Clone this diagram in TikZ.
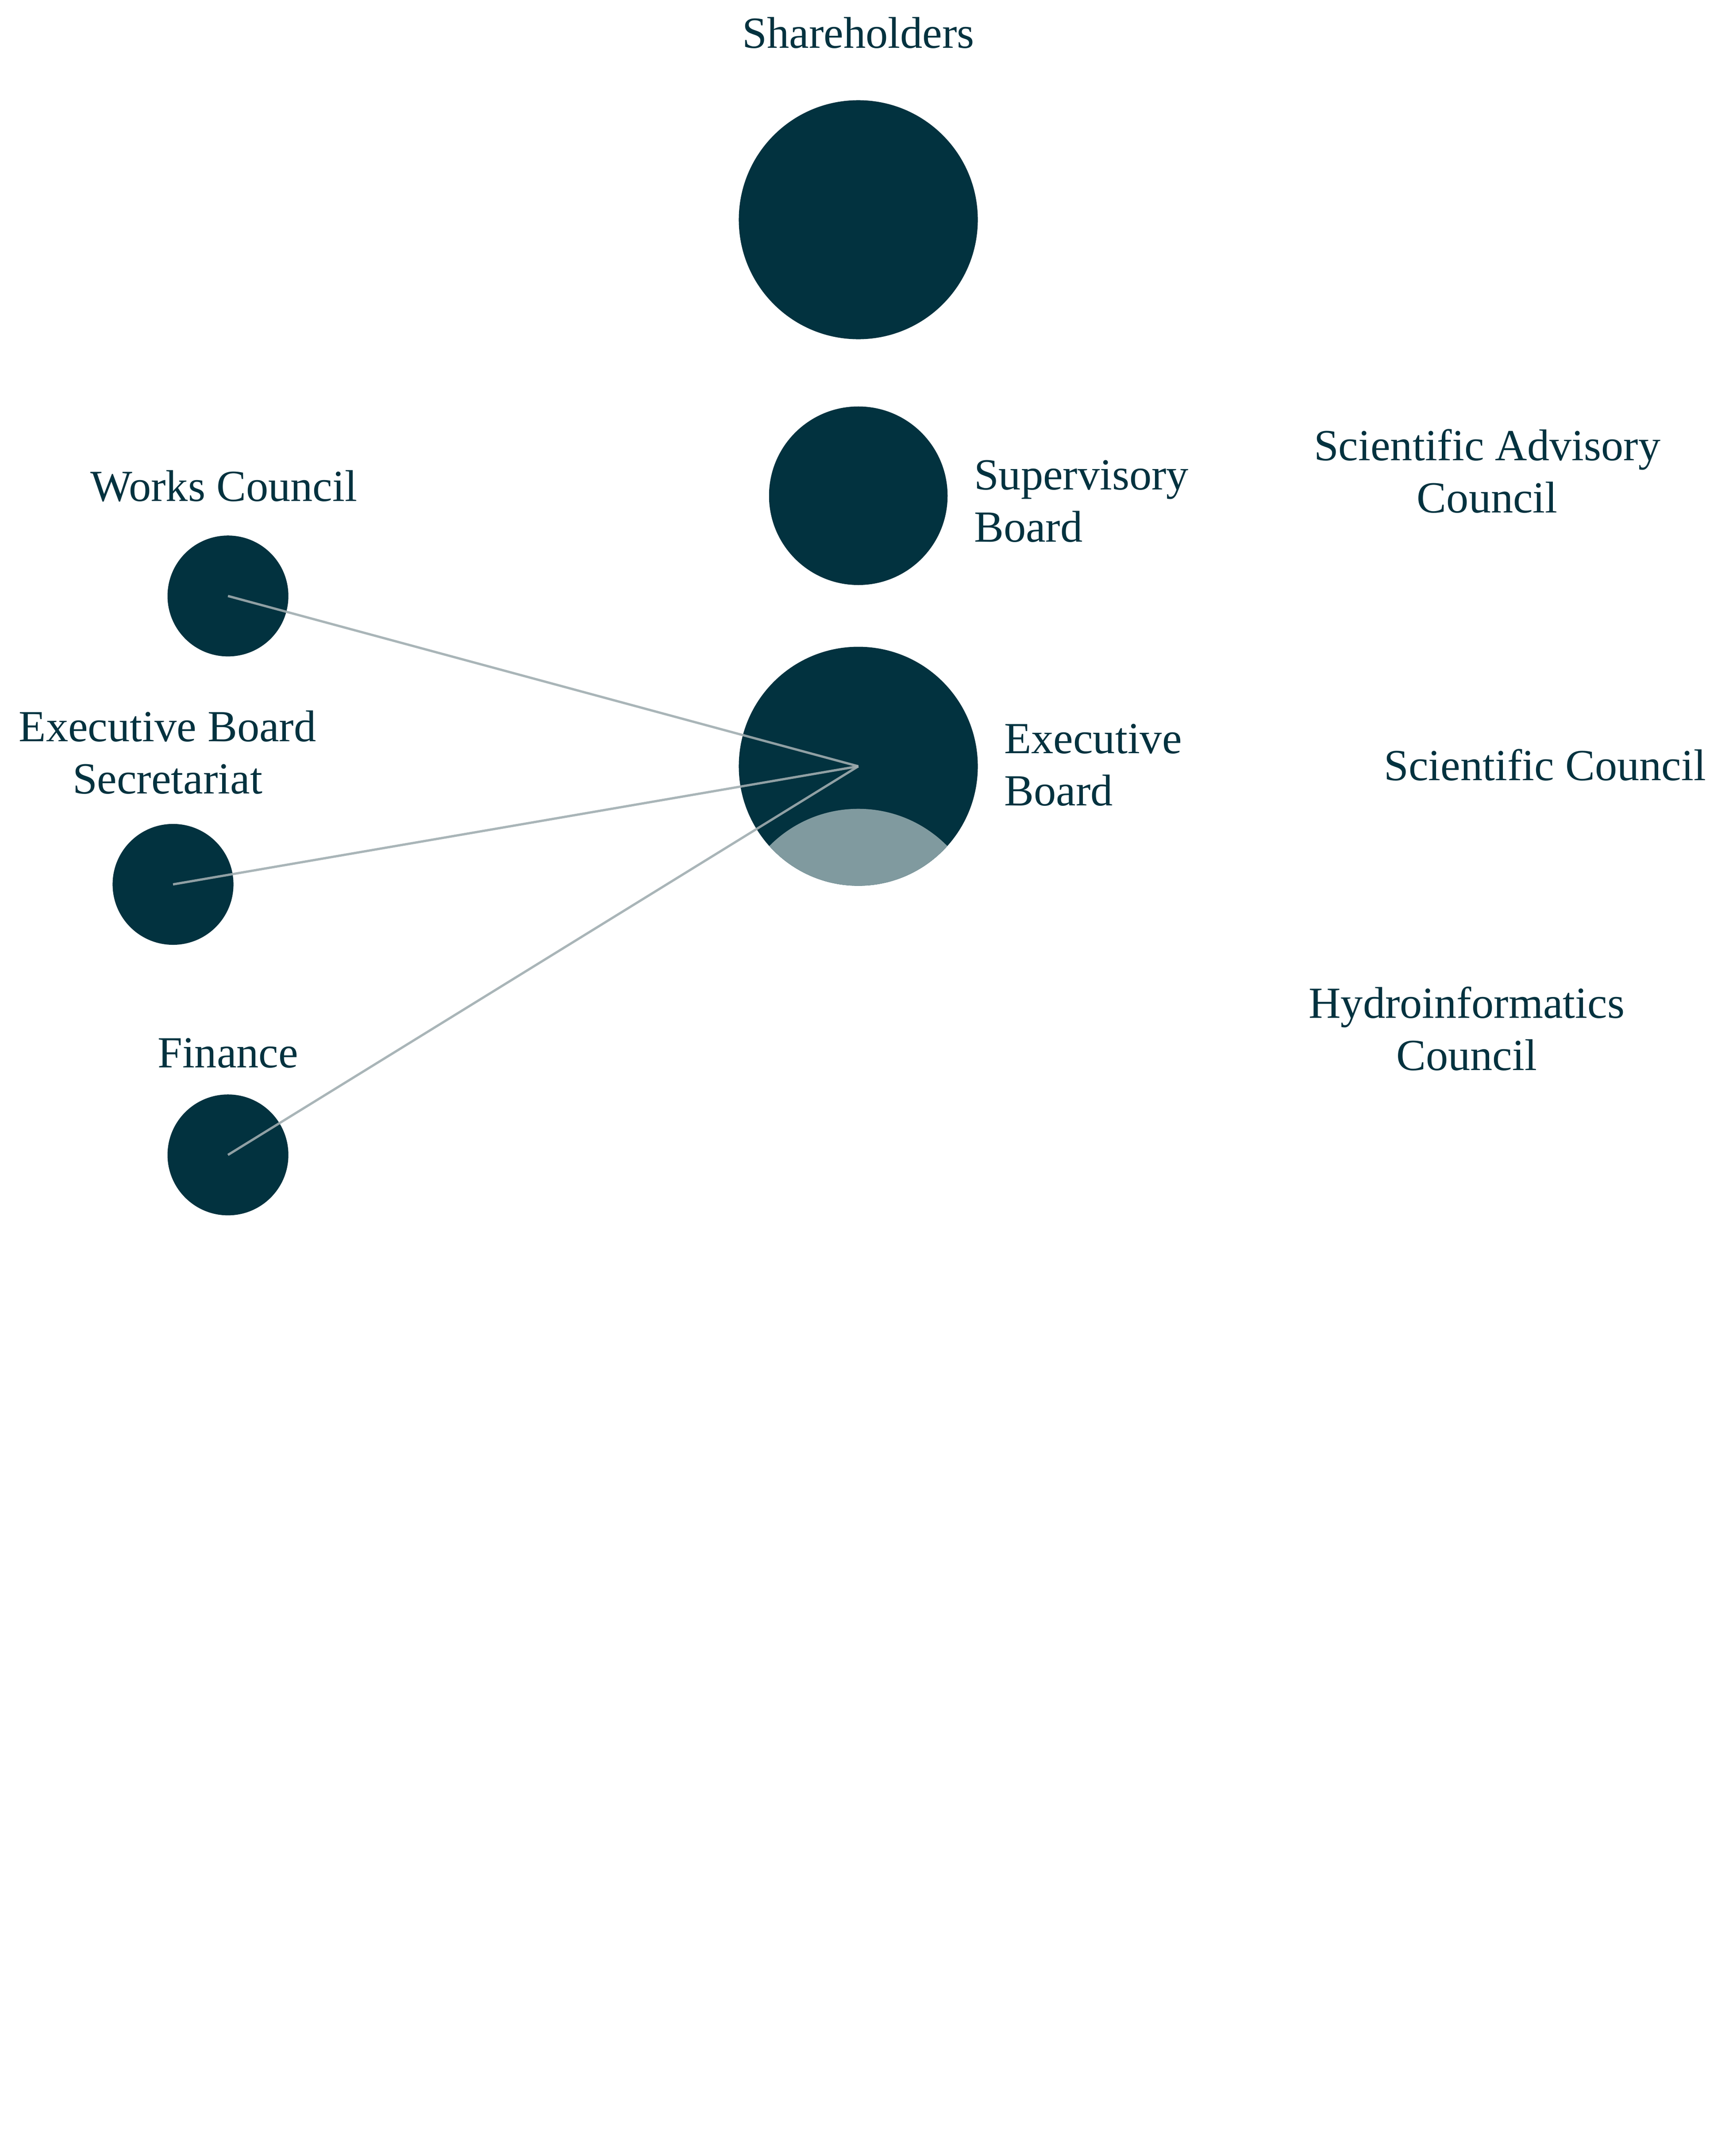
\documentclass[tikz,border=0pt]{standalone}
\usepackage{fontspec}
\setmainfont{Liberation Serif}
\usetikzlibrary{positioning}
\definecolor{deep}{HTML}{02323F}
\definecolor{soft}{HTML}{809A9F}
\definecolor{link}{HTML}{A0ADB0}
\begin{document}
\begin{tikzpicture}[x=0.025cm, y=-0.025cm,
    dot/.style={circle, fill=deep, inner sep=0pt},
    lbl/.style={text=deep, font=\fontsize{23}{27}\selectfont, align=center, inner sep=0pt},
    rlbl/.style={lbl, align=left, anchor=west}]

    \useasboundingbox (0,0) rectangle (1256,1570);

    % circles
    \node[dot, minimum size=4.35cm] (SH) at (625,160) {};
    \node[dot, minimum size=3.25cm] (SB) at (625,361) {};
    \node[dot, minimum size=4.35cm] (EB) at (625,558) {};
    \node[dot, minimum size=2.2cm] (WC) at (166,434) {};
    \node[dot, minimum size=2.2cm] (ES) at (126,644) {};
    \node[dot, minimum size=2.2cm] (FI) at (166,841) {};
    \begin{scope}
        \clip (625,558) circle (2.175cm);
        \fill[soft] (625,680) circle (2.275cm);
    \end{scope}

    % links
    \draw[link, line width=1.2pt, opacity=0.9] (WC.center) -- (EB.center);
    \draw[link, line width=1.2pt, opacity=0.9] (ES.center) -- (EB.center);
    \draw[link, line width=1.2pt, opacity=0.9] (FI.center) -- (EB.center);

    % labels
    \node[lbl] (tSH) at (625,24) {Shareholders};
    \node[rlbl] (tSB) at (709,365) {Supervisory\\Board};
    \node[rlbl] (tEB) at (731,557) {Executive\\Board};
    \node[lbl] (tWC) at (163,354) {Works Council};
    \node[lbl] (tES) at (122,548) {Executive Board\\Secretariat};
    \node[lbl] (tFI) at (166,767) {Finance};
    \node[lbl] (tSA) at (1083,343) {Scientific Advisory\\Council};
    \node[lbl] (tSC) at (1125,557) {Scientific Council};
    \node[lbl] (tHC) at (1068,749) {Hydroinformatics\\Council};
\end{tikzpicture}
\end{document}
